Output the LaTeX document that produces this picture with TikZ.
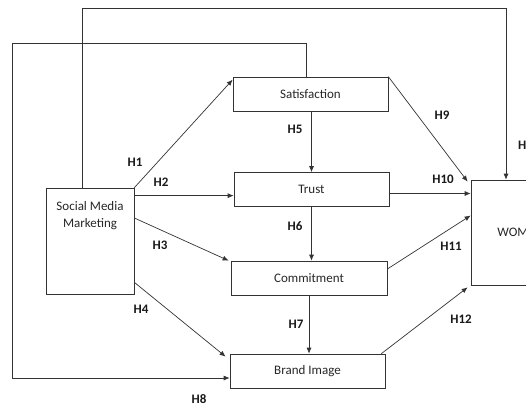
\documentclass[tikz,border=0pt]{standalone}
\usepackage{fontspec}
\setmainfont{Carlito}
\usepackage{tikz}
\usetikzlibrary{arrows.meta,positioning}
\usepackage{xcolor}

\begin{document}
\begin{tikzpicture}[x=1pt,y=-1pt,font=\fontsize{13}{15}\selectfont,
  box/.style={draw=black!80,line width=0.7pt,rectangle,minimum width=155pt,minimum height=34pt,inner sep=0pt,text=black!85},
  hlab/.style={font=\fontsize{13}{15}\selectfont\bfseries,text=black!90,inner sep=0pt},
  link/.style={draw=black!80,line width=0.7pt,-{Latex[length=6pt,width=5pt]}}]
  \clip (0,0) rectangle (526,407);
  % constructs
  \node[box] (sat) at (310.5,94) {Satisfaction};
  \node[box] (trust) at (311.5,189.5) {Trust};
  \node[box,minimum width=156pt] (commit) at (309,278) {Commitment};
  \node[box] (brand) at (307.5,371) {Brand Image};
  \node[box,minimum width=88pt,minimum height=106pt] (smm) at (90,241) {};
  \node[text=black!85,align=center,inner sep=0pt] (smmtxt) at (90,216) {Social Media\\[2pt]Marketing};
  \node[box,minimum width=84pt,minimum height=105pt] (wom) at (513,232.5) {WOM};
  % long paths
  \coordinate (topl) at (82,8); \coordinate (topr) at (506,8);
  \coordinate (h8a) at (306,43); \coordinate (h8b) at (12,43); \coordinate (h8c) at (12,378);
  \draw[link] (smm.north -| topl) -- (topl) -- (topr) -- (topr |- wom.north);
  \draw[link] (h8a |- sat.north) -- (h8a) -- (h8b) -- (h8c) -- (h8c -| brand.west);
  % hypotheses
  \draw[link] (smm.north east) -- ([yshift=-3pt]sat.north west);
  \draw[link] ([yshift=-8pt]smm.north east) -- ([yshift=-8pt]smm.north east -| trust.west);
  \draw[link] ([yshift=23pt]smm.east) -- ([xshift=-2pt]commit.north west);
  \draw[link] ([yshift=12pt]smm.south east) -- ([xshift=-4pt,yshift=-3pt]brand.north west);
  \draw[link] (sat.south -| trust.north) -- (trust.north);
  \draw[link] (trust.south) -- (trust.south |- commit.north);
  \draw[link] (commit.south) -- (commit.south |- brand.north);
  \draw[link] (sat.north east) -- ([xshift=-3pt,yshift=-2pt]wom.north west);
  \draw[link] ([yshift=-4pt]trust.east) -- ([yshift=-4pt]trust.east -| wom.west);
  \draw[link] ([yshift=9pt]commit.east) -- ([yshift=17pt]wom.west);
  \draw[link] ([xshift=-4pt]brand.north east) -- ([xshift=-3pt,yshift=-2pt]wom.south west);
  % labels
  \node[hlab] (l1) at (135,162) {H1};
  \node[hlab] (l2) at (161,182) {H2};
  \node[hlab] (l3) at (160,245) {H3};
  \node[hlab] (l4) at (141,309) {H4};
  \node[hlab] (l5) at (295,129) {H5};
  \node[hlab] (l6) at (295,226) {H6};
  \node[hlab] (l7) at (296,324) {H7};
  \node[hlab] (l8) at (199,399) {H8};
  \node[hlab] (l9) at (442,115) {H9};
  \node[hlab] (l10) at (443,179) {H10};
  \node[hlab] (l11) at (451,246) {H11};
  \node[hlab] (l12) at (461,319) {H12};
  \node[hlab,anchor=west] (l13) at (518,145) {H13};
\end{tikzpicture}
\end{document}
